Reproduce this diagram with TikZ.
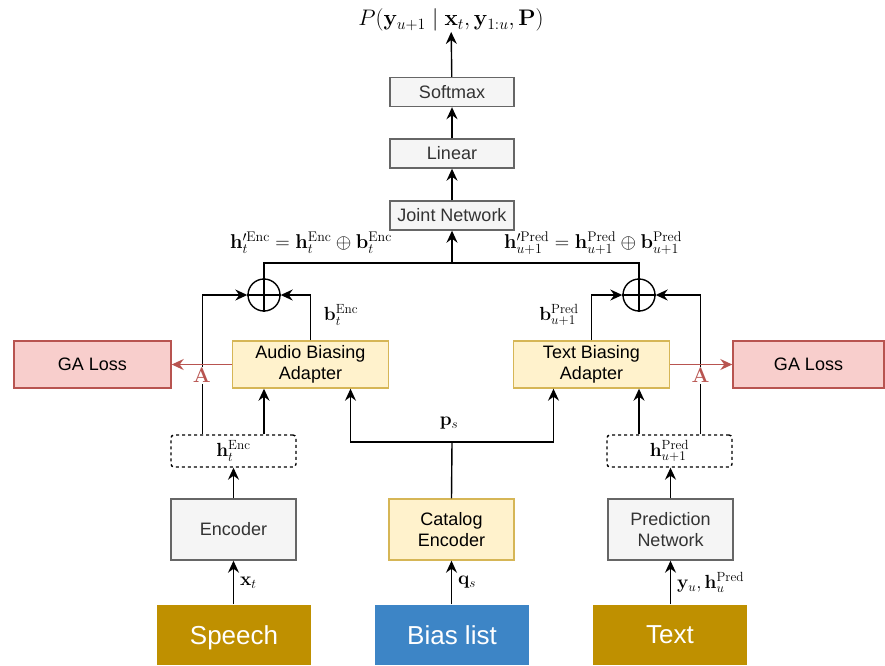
\RequirePackage{fix-cm}
\documentclass[tikz,border=0pt]{standalone}
\usepackage{amsmath}
\usepackage[no-math]{fontspec}
\setmainfont{Liberation Sans}
\usetikzlibrary{arrows.meta}

\definecolor{gfill}{HTML}{F5F5F5}
\definecolor{gline}{HTML}{666666}
\definecolor{gtext}{HTML}{333333}
\definecolor{yfill}{HTML}{FFF2CC}
\definecolor{yline}{HTML}{D6B656}
\definecolor{rfill}{HTML}{F8CECC}
\definecolor{rline}{HTML}{B85450}
\definecolor{gold}{HTML}{BF9000}
\definecolor{bluebox}{HTML}{3D85C6}

\begin{document}
\begin{tikzpicture}[x=1pt,y=-1pt,line width=1.4pt,
    every node/.style={font=\fontsize{18}{21}\selectfont,inner sep=0pt},
    greybox/.style={draw=gline,fill=gfill,text=gtext,minimum width=124pt,minimum height=29pt,align=center},
    yellowbox/.style={draw=yline,fill=yfill,minimum width=156pt,minimum height=47pt,align=center},
    lossbox/.style={draw=rline,fill=rfill,minimum height=47pt},
    dashbox/.style={draw,dashed,rounded corners=3pt,minimum width=125pt,minimum height=32pt},
    inbox/.style={minimum width=154pt,minimum height=60pt,text=white,font=\fontsize{26}{30}\selectfont},
    lbl/.style={font=\fontsize{19}{22}\selectfont},
    big/.style={font=\fontsize{22.5}{26}\selectfont},
    oplus/.style={circle,draw,minimum size=32pt},
    arr/.style={-{Stealth[length=12pt,width=11pt,inset=4pt]}},
    redarr/.style={draw=rline,-{Stealth[length=12pt,width=11pt,inset=4pt]}}]
    \useasboundingbox (0,0) rectangle (885,665);

    % output side
    \node[big] (prob) at (451,20) {$P(\mathbf{y}_{u+1} \mid \mathbf{x}_t, \mathbf{y}_{1:u}, \mathbf{P})$};
    \node[greybox] (soft) at (452,92) {Softmax};
    \node[greybox] (lin) at (452,153.5) {Linear};
    \node[greybox] (joint) at (452,215.5) {Joint Network};
    \coordinate (mid) at (452,263);

    \node[big,font=\fontsize{20}{24}\selectfont] (fenc) at (311,243) {$\mathbf{h}'^{\mathrm{Enc}}_t = \mathbf{h}^{\mathrm{Enc}}_t \oplus \mathbf{b}^{\mathrm{Enc}}_t$};
    \node[big,font=\fontsize{20}{24}\selectfont] (fpred) at (593,243) {$\mathbf{h}'^{\mathrm{Pred}}_{u+1} = \mathbf{h}^{\mathrm{Pred}}_{u+1} \oplus \mathbf{b}^{\mathrm{Pred}}_{u+1}$};

    \node[oplus] (opl) at (264,295) {};
    \node[oplus] (opr) at (639,295) {};
    \draw (opl.north) -- (opl.south) (opl.west) -- (opl.east);
    \draw (opr.north) -- (opr.south) (opr.west) -- (opr.east);

    % adapters and losses
    \node[yellowbox] (aba) at (310.5,364.5) {Audio Biasing\\Adapter};
    \node[yellowbox] (tba) at (591.5,364.5) {Text Biasing\\Adapter};
    \node[lossbox,minimum width=157pt] (gal) at (92.5,364.5) {GA Loss};
    \node[lossbox,minimum width=151pt] (gar) at (808.5,364.5) {GA Loss};

    \node[lbl] (benc) at (341,315) {$\mathbf{b}^{\mathrm{Enc}}_t$};
    \node[lbl] (bpred) at (559,315) {$\mathbf{b}^{\mathrm{Pred}}_{u+1}$};

    % hidden states
    \node[dashbox,lbl] (hl) at (233.5,451) {$\mathbf{h}^{\mathrm{Enc}}_t$};
    \node[dashbox,lbl] (hr) at (669.5,451) {$\mathbf{h}^{\mathrm{Pred}}_{u+1}$};
    \coordinate (ps) at (452,442);
    \node[lbl] (pslbl) at (449,423) {$\mathbf{p}_s$};

    % encoders
    \node[greybox,minimum width=125pt,minimum height=61pt] (enc) at (233.5,529.5) {Encoder};
    \node[yellowbox,minimum width=125pt,minimum height=61pt] (cat) at (451.5,529.5) {Catalog\\Encoder};
    \node[greybox,minimum width=125pt,minimum height=61pt] (pred) at (670.5,529.5) {Prediction\\Network};

    % inputs
    \node[inbox,fill=gold,text depth=0pt] (speech) at (234,635) {Speech};
    \node[inbox,fill=bluebox] (bias) at (452,635) {Bias list};
    \node[inbox,fill=gold] (text) at (670,635) {Text};

    \draw[arr] (speech.north -| enc) -- node[lbl,right=6pt] {$\mathbf{x}_t$} (enc.south);
    \draw[arr] (bias.north -| cat) -- node[lbl,right=6pt] {$\mathbf{q}_s$} (cat.south);
    \draw[arr] (text.north -| pred) -- node[lbl,right=6pt] {$\mathbf{y}_u, \mathbf{h}^{\mathrm{Pred}}_u$} (pred.south);

    \draw[arr] (enc.north) -- (hl.south -| enc);
    \draw[arr] (pred.north) -- (hr.south -| pred);
    \draw (cat.north) -- (ps);
    \draw[arr] (ps) -| ([xshift=40pt]aba.south);
    \draw[arr] (ps) -| ([xshift=-38pt]tba.south);

    \draw[arr] (hl.north -| opl) -- (aba.south -| opl);
    \draw[arr] (hr.north -| opr) -- (tba.south -| opr);
    \draw[arr] ([xshift=-31pt]hl.north) |- (opl.west);
    \draw[arr] ([xshift=31pt]hr.north) |- (opr.east);
    \draw[arr] (aba.north) |- (opl.east);
    \draw[arr] (tba.north) |- (opr.west);

    \draw (opl.north) |- (mid) -| (opr.north);
    \draw[arr] (mid) -- (joint.south);
    \draw[arr] (joint) -- (lin);
    \draw[arr] (lin) -- (soft);
    \draw[arr] (soft) -- (prob);

    % alignment losses
    \draw[redarr] (aba.west) -- node[pos=0.5,below=2pt,fill=white,inner sep=1pt,text=rline,font=\fontsize{21}{24}\selectfont] {$\mathbf{A}$} (gal.east);
    \draw[redarr] (tba.east) -- node[pos=0.49,below=2pt,fill=white,inner sep=1pt,text=rline,font=\fontsize{21}{24}\selectfont] {$\mathbf{A}$} (gar.west);
\end{tikzpicture}
\end{document}
